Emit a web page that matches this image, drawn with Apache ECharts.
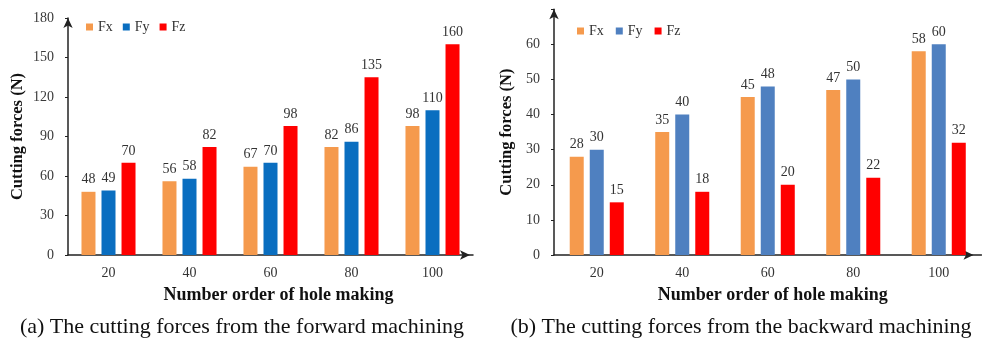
<!DOCTYPE html>
<html><head><meta charset="utf-8">
<script src="https://cdn.jsdelivr.net/npm/echarts@6/dist/echarts.min.js"></script>
<style>html,body{margin:0;padding:0;background:#fff}#c{width:982px;height:341px}</style>
</head><body><div id="c"></div>
<script>
const categories = ['20','40','60','80','100'];
const fwdFx = [48,56,67,82,98];
const fwdFy = [49,58,70,86,110];
const fwdFz = [70,82,98,135,160];
const bwdFx = [28,35,45,47,58];
const bwdFy = [30,40,48,50,60];
const bwdFz = [15,18,20,22,32];
const fwdTicks = [0,30,60,90,120,150,180];
const bwdTicks = [0,10,20,30,40,50,60];
const captions = ['(a) The cutting forces from the forward machining','(b) The cutting forces from the backward machining'];

const serif = '"Liberation Serif","Times New Roman",serif';
const cFx = '#F59A4D', cFyA = '#0A6EC0', cFz = '#FF0000', cFyB = '#4F80C0';
const chart = echarts.init(document.getElementById('c'));

function xAxis(gi,off,pad){
  return {type:'category', gridIndex:gi, data:categories,
    axisLine:{lineStyle:{color:'#222',width:1.5}, symbol:['none','arrow'], symbolSize:[7,10], symbolOffset:[0,off]},
    axisTick:{show:false},
    axisLabel:{fontFamily:serif,fontSize:14,color:'#333',margin:11},
    name:'Number order of hole making', nameLocation:'middle', nameGap:31,
    nameTextStyle:{fontFamily:serif,fontSize:18,fontWeight:'bold',color:'#111',padding:[0,0,0,pad]}};
}
function yAxis(gi,max,interval,ticks,gap){
  return {type:'value', gridIndex:gi, min:0, max:max, interval:interval,
    axisLine:{show:true,lineStyle:{color:'#222',width:1.5}, symbol:['none','arrow'], symbolSize:[7,10]},
    axisTick:{show:true,inside:false,length:3,lineStyle:{color:'#222'}},
    splitLine:{show:false},
    axisLabel:{fontFamily:serif,fontSize:14,color:'#3a3a3a',margin:14,
      formatter:v=>ticks.indexOf(v)>=0?String(v):''},
    name:'Cutting forces (N)', nameLocation:'middle', nameGap:gap,
    nameTextStyle:{fontFamily:serif,fontSize:16.5,fontWeight:'bold',color:'#111'}};
}
function bar(name,data,gi,color){
  return {type:'bar', name:name, data:data, xAxisIndex:gi, yAxisIndex:gi,
    barWidth:14, barGap:'43%', itemStyle:{color:color},
    label:{show:true,position:'top',distance:5,fontFamily:serif,fontSize:14,color:'#333'}};
}

chart.setOption({
  animation:false,
  grid:[
    {left:68, top:18, width:405, height:237},
    {left:554, top:9.2, width:427.5, height:245.8}
  ],
  legend:[
    {left:81, top:15, itemWidth:7, itemHeight:7, itemGap:10, icon:'rect',
     textStyle:{fontFamily:serif,fontSize:14,color:'#333'},
     data:[{name:'Fx',itemStyle:{color:cFx}},{name:'Fy',itemStyle:{color:cFyA}},{name:'Fz',itemStyle:{color:cFz}}]},
    {left:572, top:19, itemWidth:7, itemHeight:7, itemGap:12, icon:'rect',
     textStyle:{fontFamily:serif,fontSize:14,color:'#333'},
     data:[{name:'Fx',itemStyle:{color:cFx}},{name:'Fy',itemStyle:{color:cFyB}},{name:'Fz',itemStyle:{color:cFz}}]}
  ],
  xAxis:[xAxis(0,-3,16),xAxis(1,-8,10)],
  yAxis:[yAxis(0,180,30,fwdTicks,42), yAxis(1,70,10,bwdTicks,39)],
  series:[
    bar('Fx',fwdFx,0,cFx), bar('Fy',fwdFy,0,cFyA), bar('Fz',fwdFz,0,cFz),
    bar('Fx',bwdFx,1,cFx), bar('Fy',bwdFy,1,cFyB), bar('Fz',bwdFz,1,cFz)
  ],
  graphic:[
    {type:'text', x:242, y:316, style:{text:captions[0],align:'center',fontFamily:serif,fontSize:22,fill:'#111'}},
    {type:'text', x:741, y:316, style:{text:captions[1],align:'center',fontFamily:serif,fontSize:22,fill:'#111'}}
  ]
});
</script></body></html>
